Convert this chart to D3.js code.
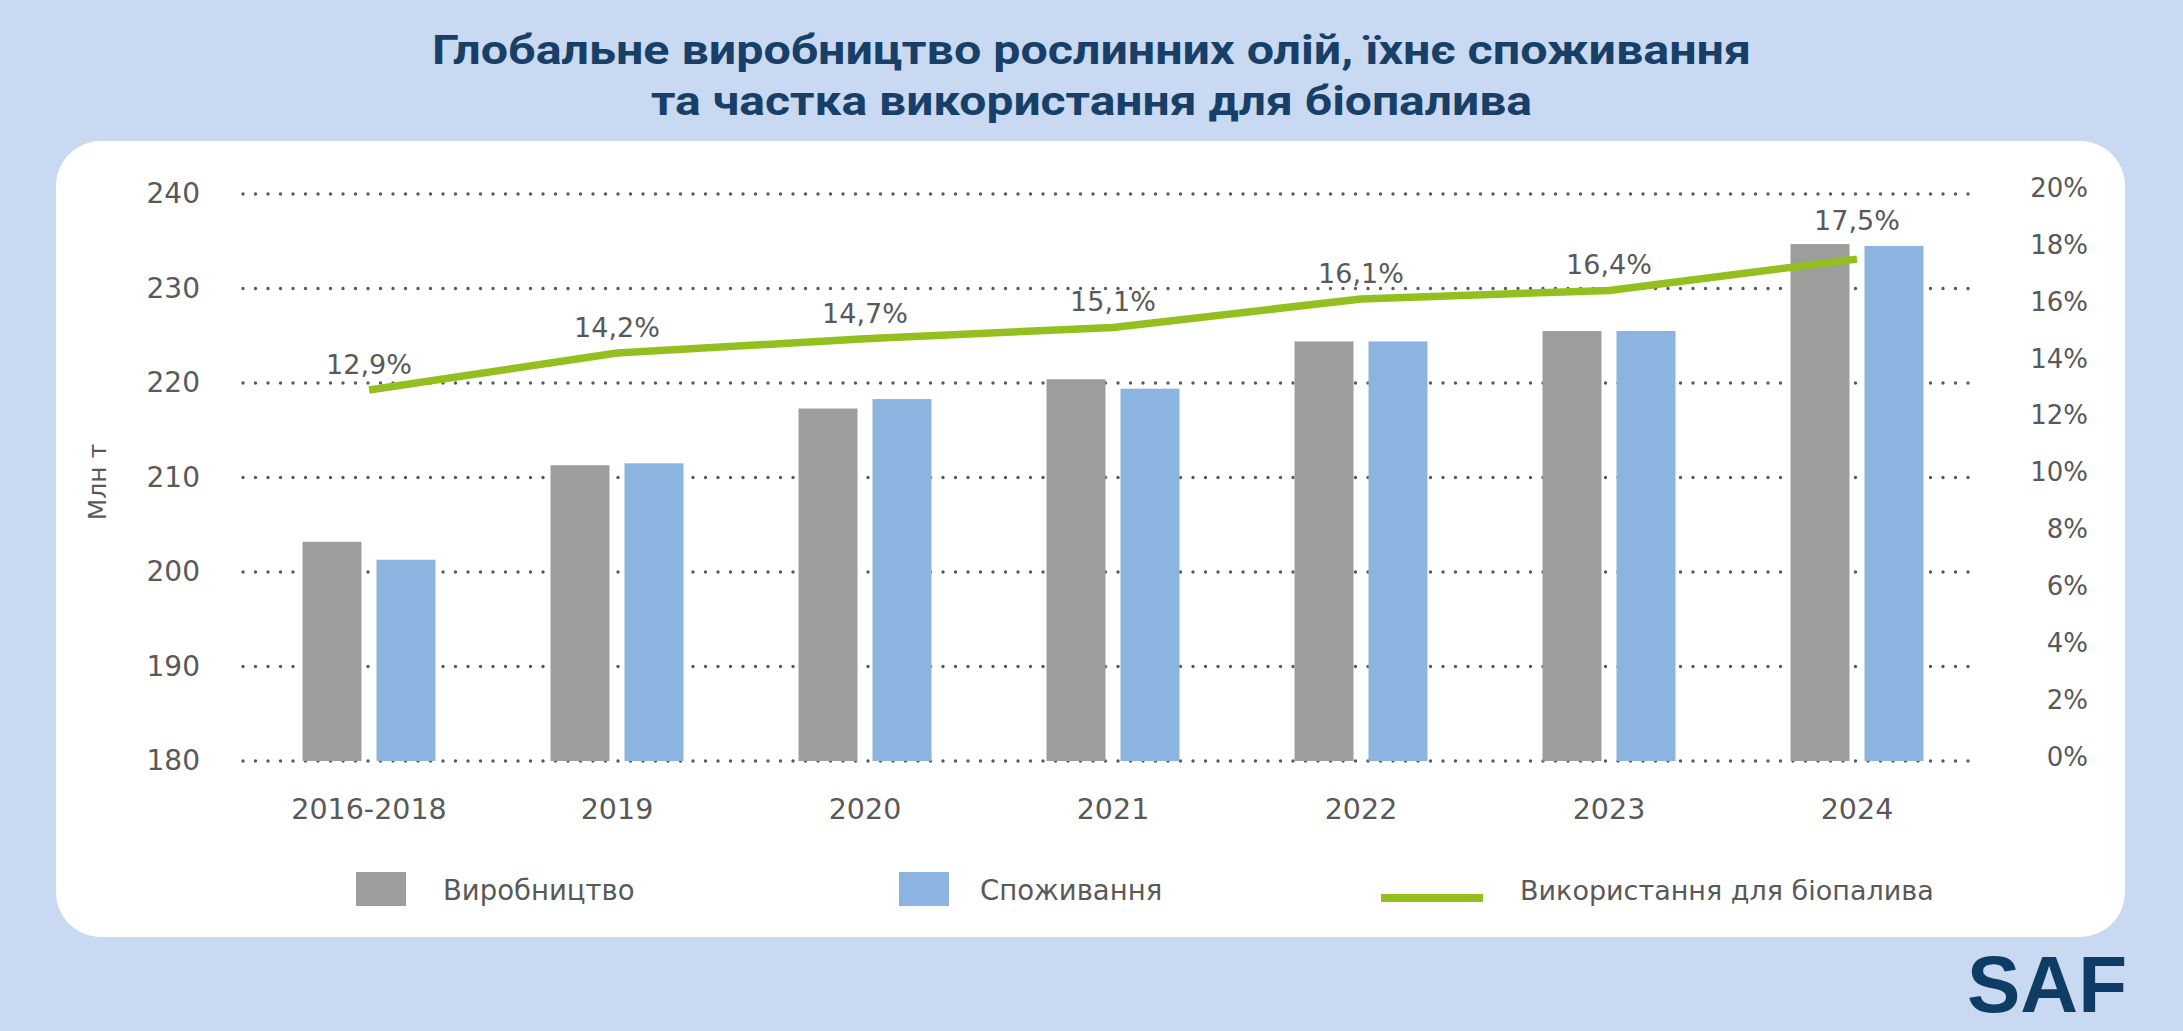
<!DOCTYPE html>
<html>
<head>
<meta charset="utf-8">
<script src="https://cdn.jsdelivr.net/npm/d3@7"></script>
<style>
  html, body { margin: 0; padding: 0; background: #c8d9f1; }
  svg { display: block; }
</style>
</head>
<body>
<svg id="chart" width="2183" height="1031"></svg>
<script>
// ---- Data ----
const categories = ["2016-2018", "2019", "2020", "2021", "2022", "2023", "2024"];
const production = [203.2, 211.3, 217.3, 220.4, 224.4, 225.5, 234.7];
const consumption = [201.3, 211.5, 218.3, 219.4, 224.4, 225.5, 234.5];
const biofuelShare = [12.9, 14.2, 14.7, 15.1, 16.1, 16.4, 17.5];
const leftTicks = [180, 190, 200, 210, 220, 230, 240];
const rightTicks = [0, 2, 4, 6, 8, 10, 12, 14, 16, 18, 20];
const seriesNames = ["Виробництво", "Споживання", "Використання для біопалива"];
const titleLines = ["Глобальне виробництво рослинних олій, їхнє споживання", "та частка використання для біопалива"];
const yAxisTitle = "Млн т";

// ---- Styles ----
const C = {
  bg: "#c8d9f1", panel: "#ffffff", title: "#173f67",
  gray: "#9d9d9c", blue: "#8bb4e0", green: "#93c01f",
  text: "#595959", dots: "#5a5a5a", logo: "#0f3c65"
};
const FONT = "'DejaVu Sans', 'Open Sans', sans-serif";

const svg = d3.select("#chart");
const W = 2183, H = 1031;

svg.append("rect").attr("width", W).attr("height", H).attr("fill", C.bg);
svg.append("rect").attr("x", 56).attr("y", 141).attr("width", 2069).attr("height", 796)
  .attr("rx", 45).attr("ry", 45).attr("fill", C.panel);

// Title
const titleG = svg.append("g");
const titleY = [64, 115];
const titleW = [1319, 881];
titleLines.forEach((t, i) => {
  titleG.append("text")
    .attr("x", W / 2).attr("y", titleY[i])
    .attr("text-anchor", "middle")
    .attr("font-family", "Roboto, 'Noto Sans', sans-serif")
    .attr("font-weight", 700).attr("font-size", 40)
    .attr("fill", C.title)
    .attr("textLength", titleW[i]).attr("lengthAdjust", "spacingAndGlyphs")
    .text(t);
});

// Scales
const plotTop = 194, plotBottom = 761;
const x0 = d3.scaleBand().domain(categories).range([245, 1981]).padding(0);
const step = x0.bandwidth();
const x1 = d3.scaleBand().domain(["production", "consumption"])
  .range([step / 2 - 66.5, step / 2 + 66.5]).paddingInner(15 / 74).paddingOuter(0);
const yL = d3.scaleLinear().domain([180, 240]).range([plotBottom, plotTop]);
const yR = d3.scaleLinear().domain([0, 20]).range([757, 188]);

// Gridlines (dotted)
svg.append("g").selectAll("line").data(leftTicks).join("line")
  .attr("x1", 243).attr("x2", 1976)
  .attr("y1", d => yL(d)).attr("y2", d => yL(d))
  .attr("stroke", C.dots).attr("stroke-width", 3.4)
  .attr("stroke-linecap", "round").attr("stroke-dasharray", "0 12.5");

// Bars
const groups = svg.append("g").selectAll("g").data(categories).join("g")
  .attr("transform", d => `translate(${x0(d)},0)`);
groups.append("rect")
  .attr("x", x1("production")).attr("width", x1.bandwidth())
  .attr("y", (d, i) => yL(production[i]))
  .attr("height", (d, i) => yL(180) - yL(production[i]))
  .attr("fill", C.gray);
groups.append("rect")
  .attr("x", x1("consumption")).attr("width", x1.bandwidth())
  .attr("y", (d, i) => yL(consumption[i]))
  .attr("height", (d, i) => yL(180) - yL(consumption[i]))
  .attr("fill", C.blue);

// Line
const cx = d => x0(d) + step / 2;
const lineGen = d3.line().x((d, i) => cx(categories[i])).y(d => yR(d));
svg.append("path").datum(biofuelShare)
  .attr("d", lineGen).attr("fill", "none")
  .attr("stroke", C.green).attr("stroke-width", 7.5).attr("stroke-linejoin", "round");

// Data labels (above the line point, and above the bars of that category)
const fmtPct = v => d3.format(".1f")(v).replace(".", ",") + "%";
svg.append("g").selectAll("text").data(biofuelShare).join("text")
  .attr("x", (d, i) => cx(categories[i]))
  .attr("y", (d, i) => Math.min(yR(d) - 16, yL(Math.max(production[i], consumption[i])) - 14))
  .attr("text-anchor", "middle")
  .attr("font-family", FONT).attr("font-size", 27).attr("fill", C.text)
  .text(d => fmtPct(d));

// Left axis
const axL = svg.append("g").attr("transform", "translate(243,0)")
  .call(d3.axisLeft(yL).tickValues(leftTicks).tickSize(0).tickPadding(43));
axL.select(".domain").remove();
axL.selectAll("text").attr("font-family", FONT).attr("font-size", 28).attr("fill", C.text);

// Right axis
const axR = svg.append("g").attr("transform", "translate(2088,0)")
  .call(d3.axisRight(yR).tickValues(rightTicks).tickSize(0).tickFormat(d => d + "%"));
axR.select(".domain").remove();
axR.selectAll("text").attr("x", 0).attr("text-anchor", "end")
  .attr("font-family", FONT).attr("font-size", 26).attr("fill", C.text);

// Bottom axis
const axB = svg.append("g").attr("transform", `translate(0,${plotBottom})`)
  .call(d3.axisBottom(x0).tickSize(0).tickPadding(38));
axB.select(".domain").remove();
axB.selectAll("text").attr("font-family", FONT).attr("font-size", 28.5).attr("fill", C.text);

// Y-axis title
svg.append("text")
  .attr("transform", "translate(97,482) rotate(-90)")
  .attr("text-anchor", "middle").attr("dominant-baseline", "central")
  .attr("font-family", FONT).attr("font-size", 25).attr("fill", C.text)
  .text(yAxisTitle);

// Legend
const leg = svg.append("g");
leg.append("rect").attr("x", 356).attr("y", 872).attr("width", 50).attr("height", 34).attr("fill", C.gray);
leg.append("text").attr("x", 443).attr("y", 900)
  .attr("font-family", FONT).attr("font-size", 27.5).attr("fill", C.text).text(seriesNames[0]);
leg.append("rect").attr("x", 899).attr("y", 872).attr("width", 50).attr("height", 34).attr("fill", C.blue);
leg.append("text").attr("x", 980).attr("y", 900)
  .attr("font-family", FONT).attr("font-size", 27.5).attr("fill", C.text).text(seriesNames[1]);
leg.append("line").attr("x1", 1381).attr("x2", 1483).attr("y1", 898).attr("y2", 898)
  .attr("stroke", C.green).attr("stroke-width", 8);
leg.append("text").attr("x", 1520).attr("y", 900)
  .attr("font-family", FONT).attr("font-size", 27).attr("fill", C.text).text(seriesNames[2]);

// Logo
svg.append("text").attr("x", 2127).attr("y", 1012).attr("text-anchor", "end")
  .attr("font-family", "'Liberation Sans', Arial, sans-serif").attr("font-weight", 700)
  .attr("font-size", 80).attr("fill", C.logo)
  .attr("textLength", 160).attr("lengthAdjust", "spacingAndGlyphs")
  .text("SAF");
</script>
</body>
</html>
